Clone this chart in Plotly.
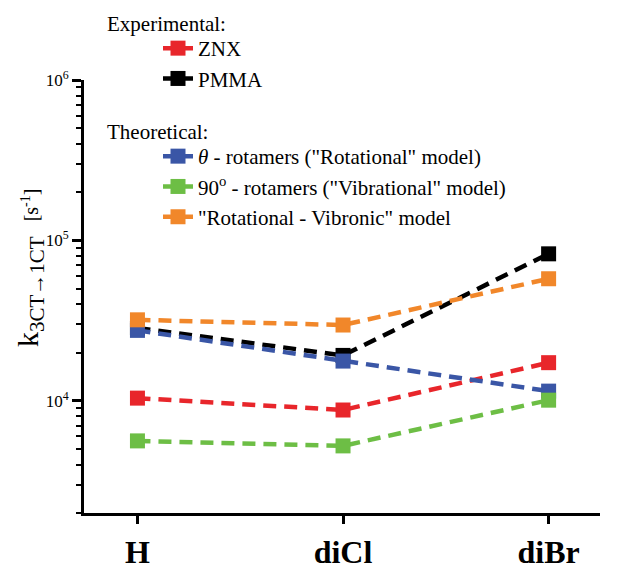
import plotly.graph_objects as go

categories = ["H", "diCl", "diBr"]
x_pos = [0, 1, 2]

znx = [10400, 8770, 17300]
pmma = [28500, 19200, 82500]
theta_rot = [27500, 17700, 11500]
vib_90 = [5630, 5240, 10100]
rot_vib = [32000, 29700, 57700]

series = [
    ("ZNX", znx, "#E8262B", "legend"),
    ("PMMA", pmma, "#000000", "legend"),
    ("<i>θ</i> - rotamers (\"Rotational\" model)", theta_rot, "#3A56A6", "legend2"),
    ("90<sup>o</sup> - rotamers (\"Vibrational\" model)", vib_90, "#6DBE45", "legend2"),
    ("\"Rotational - Vibronic\" model", rot_vib, "#F1872A", "legend2"),
]

y_major = [1e4, 1e5, 1e6]
y_major_text = ["10<sup>4</sup>", "10<sup>5</sup>", "10<sup>6</sup>"]
y_minor = [m * 10 ** e for e in (3, 4, 5) for m in range(2, 10)]

serif = "Liberation Serif, Times New Roman, serif"

W, H = 627, 569
ML, MR, MT, MB = 84, 27, 80, 56
pw = W - ML - MR
ph = H - MT - MB


def px(xp):
    return (xp - ML) / pw


def py(yp):
    return (H - MB - yp) / ph


fig = go.Figure()
for name, vals, color, lg in series:
    fig.add_trace(go.Scatter(
        x=x_pos, y=vals, name=name, mode="lines+markers",
        line=dict(color=color, width=4.5, dash="13px,8px"),
        marker=dict(symbol="square", size=15, color=color, line=dict(width=0)),
        legend=lg,
    ))

fig.update_layout(
    width=W, height=H,
    margin=dict(l=ML, r=MR, t=MT, b=MB, autoexpand=False),
    plot_bgcolor="white", paper_bgcolor="white",
    font=dict(family=serif, color="black"),
    xaxis=dict(
        range=[-0.26, 2.25], tickvals=x_pos,
        ticktext=["<b>%s</b>" % c for c in categories],
        tickfont=dict(size=32, family=serif, color="black"),
        showline=True, linewidth=3, linecolor="black",
        ticks="outside", ticklen=8, tickwidth=3, tickcolor="black",
        showgrid=False, zeroline=False, ticklabelstandoff=1, automargin=False,
    ),
    yaxis=dict(
        type="log", range=[3.30103, 6],
        tickvals=y_major, ticktext=y_major_text,
        tickfont=dict(size=17, family=serif, color="black"),
        showline=True, linewidth=3, linecolor="black",
        ticks="outside", ticklen=9, tickwidth=3, tickcolor="black",
        minor=dict(tickvals=y_minor, ticks="outside", ticklen=5, tickwidth=2,
                   tickcolor="black", showgrid=False),
        showgrid=False, zeroline=False, automargin=False,
    ),
    legend=dict(
        x=px(158), y=py(28), xanchor="left", yanchor="top",
        font=dict(size=21, family=serif, color="black"), bgcolor="rgba(0,0,0,0)",
        tracegroupgap=0, itemclick=False, itemdoubleclick=False,
    ),
    legend2=dict(
        x=px(158), y=py(136), xanchor="left", yanchor="top",
        font=dict(size=21, family=serif, color="black"), bgcolor="rgba(0,0,0,0)",
        tracegroupgap=0, itemclick=False, itemdoubleclick=False,
    ),
    annotations=[
        dict(text="Experimental:", x=px(105), y=py(24), xref="paper", yref="paper",
             xanchor="left", yanchor="middle", showarrow=False,
             font=dict(size=21, family=serif, color="black")),
        dict(text="Theoretical:", x=px(105), y=py(132), xref="paper", yref="paper",
             xanchor="left", yanchor="middle", showarrow=False,
             font=dict(size=21, family=serif, color="black")),
        dict(text="k<sub>3CT→1CT</sub>  <span style='font-size:20px'>[s<sup>-1</sup>]</span>",
             x=px(30), y=py(268), xref="paper", yref="paper",
             xanchor="center", yanchor="middle", showarrow=False, textangle=-90,
             font=dict(size=30, family=serif, color="black")),
    ],
)

fig.write_html("out.html")
